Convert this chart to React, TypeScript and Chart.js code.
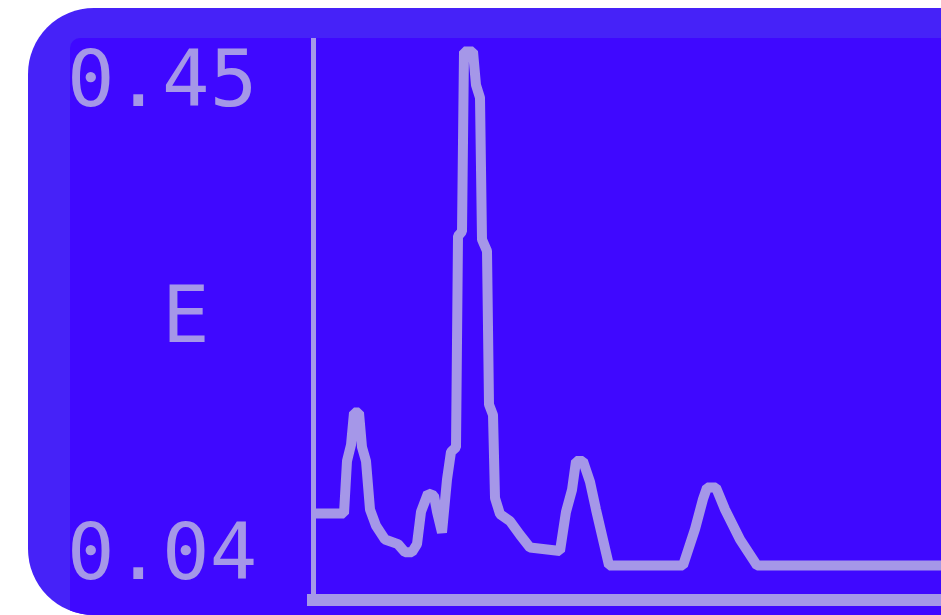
import React, { useEffect, useRef } from "react";
import { Chart, registerables } from "chart.js";

Chart.register(...registerables);

// Channel (x) and energy reading (y)
const channel = [
  0.75, 7.75, 8.5, 9.5, 10.25, 11.5, 12.25, 13.25, 14.25, 15.75, 18, 21.25, 23, 24.75, 26, 27,
  28.75, 30.25, 31, 32.25, 33.5, 34.5, 35.75, 36.25, 37.25, 37.75, 40, 40.75, 41.75, 42.25, 43.5,
  44, 45, 45.5, 46.75, 49.25, 51.75, 54.25, 61.75, 63.25, 64.75, 65.75, 67.5, 69.25, 70.75, 72.5,
  74, 92.5, 95.5, 97.5, 98.5, 100.75, 103, 106.75, 111, 157,
];
const energy = [
  0.0745, 0.0745, 0.12, 0.134, 0.162, 0.162, 0.132, 0.12, 0.078, 0.064, 0.052, 0.048, 0.041, 0.041,
  0.048, 0.076, 0.092, 0.09, 0.076, 0.058, 0.104, 0.128, 0.132, 0.315, 0.319, 0.475, 0.475, 0.446,
  0.435, 0.312, 0.302, 0.169, 0.16, 0.088, 0.074, 0.068, 0.056, 0.045, 0.042, 0.076, 0.095, 0.12,
  0.12, 0.102, 0.078, 0.052, 0.0295, 0.0295, 0.061, 0.087, 0.097, 0.097, 0.078, 0.052, 0.0295,
  0.0295,
];

const tickValues = [0.04, 0.245, 0.45];
const tickLabels = ["0.04", "  E", "0.45"];
const yMin = 0;
const yMax = 0.485;
const xMin = 0;
const xMax = 157;

const LCD = "#a597e8";

export default function App() {
  const ref = useRef<HTMLCanvasElement | null>(null);

  useEffect(() => {
    if (!ref.current) return;
    const chart = new Chart(ref.current, {
      type: "line",
      data: {
        datasets: [
          {
            data: channel.map((c, i) => ({ x: c, y: energy[i] })),
            borderColor: LCD,
            borderWidth: 10,
            borderJoinStyle: "bevel",
            pointRadius: 0,
            tension: 0,
            fill: false,
          },
        ],
      },
      options: {
        animation: false,
        responsive: false,
        events: [],
        layout: { padding: { left: 67, top: 40, right: 0, bottom: 0 } },
        plugins: { legend: { display: false }, tooltip: { enabled: false } },
        scales: {
          x: {
            type: "linear",
            min: xMin,
            max: xMax,
            grid: { display: false, drawTicks: false },
            border: { display: true, color: LCD, width: 12 },
            ticks: { display: false },
            afterFit: (scale: any) => {
              scale.height = 15.5;
              scale.paddingLeft = 0;
              scale.paddingRight = 0;
            },
          },
          y: {
            type: "linear",
            min: yMin,
            max: yMax,
            grid: { display: false, drawTicks: false },
            border: { display: true, color: LCD, width: 5 },
            afterBuildTicks: (scale: any) => {
              scale.ticks = tickValues.map((v) => ({ value: v }));
            },
            afterFit: (scale: any) => {
              scale.width = 246;
              scale.paddingTop = 0;
              scale.paddingBottom = 0;
            },
            ticks: {
              autoSkip: false,
              crossAlign: "far",
              padding: 0,
              labelOffset: 5,
              color: LCD,
              font: { family: "'DejaVu Sans Mono', monospace", size: 79 },
              callback: (value: any) => {
                const idx = tickValues.findIndex((t) => Math.abs(t - Number(value)) < 1e-6);
                return idx >= 0 ? tickLabels[idx] : "";
              },
            },
          },
        },
      },
    });
    return () => chart.destroy();
  }, []);

  return (
    <div
      style={{
        position: "fixed",
        left: 0,
        top: 0,
        width: 941,
        height: 615,
        overflow: "hidden",
        background: "#ffffff",
      }}
    >
      <div
        style={{
          position: "absolute",
          left: 28,
          top: 8,
          width: 1000,
          height: 607,
          borderRadius: "66px 0 0 66px",
          background: "#4622f8",
          overflow: "hidden",
        }}
      >
        <div
          style={{
            position: "absolute",
            left: 42,
            top: 30,
            right: 0,
            bottom: 0,
            background: "#3f08ff",
            borderTopLeftRadius: 10,
          }}
        />
      </div>
      <canvas
        ref={ref}
        width={941}
        height={615}
        style={{ position: "absolute", left: 0, top: 0, width: 941, height: 615 }}
      />
    </div>
  );
}
